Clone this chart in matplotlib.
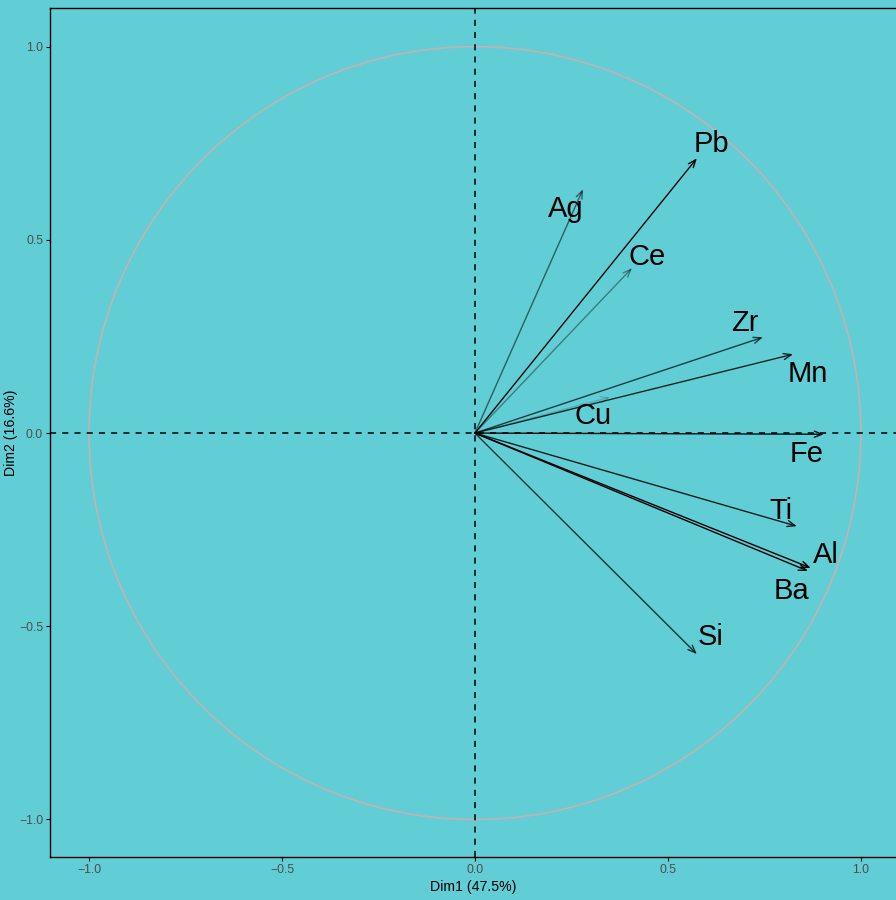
import numpy as np
import matplotlib.pyplot as plt

plt.rcParams["font.family"] = ["Liberation Sans", "DejaVu Sans"]

# variable coordinates on Dim1 / Dim2
variables = ["Pb", "Ag", "Ce", "Zr", "Mn", "Cu", "Fe", "Ti", "Al", "Ba", "Si"]
dim1 = [0.575, 0.280, 0.407, 0.746, 0.824, 0.350, 0.904, 0.834, 0.870, 0.863, 0.575]
dim2 = [0.711, 0.631, 0.427, 0.248, 0.204, 0.093, -0.003, -0.241, -0.349, -0.357, -0.572]
# label positions (repelled)
lab_x = [0.614, 0.236, 0.446, 0.699, 0.863, 0.306, 0.860, 0.793, 0.909, 0.819, 0.611]
lab_y = [0.747, 0.579, 0.455, 0.284, 0.152, 0.044, -0.055, -0.202, -0.316, -0.409, -0.528]

bg = "#61CED6"
fig = plt.figure(figsize=(8.96, 9.0), dpi=100)
fig.patch.set_facecolor(bg)
ax = fig.add_axes([0.0558, 0.0478, 0.9442, 0.9433])
ax.set_facecolor(bg)

# correlation circle
t = np.linspace(0, 2 * np.pi, 400)
ax.plot(np.cos(t), np.sin(t), color="#c2b2b2", lw=1.2, zorder=1)

ax.axhline(0, color="black", ls=(0, (4, 4)), lw=1.1, zorder=2)
ax.axvline(0, color="black", ls=(0, (4, 4)), lw=1.1, zorder=2)

cos2 = np.array(dim1) ** 2 + np.array(dim2) ** 2
alpha = 0.15 + 0.85 * (cos2 - cos2.min()) / (cos2.max() - cos2.min())

for i, v in enumerate(variables):
    ax.annotate("", xy=(dim1[i], dim2[i]), xytext=(0, 0),
                arrowprops=dict(arrowstyle="->,head_length=0.55,head_width=0.22",
                                color="black", alpha=alpha[i], lw=1.0,
                                shrinkA=0, shrinkB=0), zorder=3)
    ax.text(lab_x[i], lab_y[i], v, fontsize=21, ha="center", va="center",
            color="black", zorder=4)

ax.set_xlim(-1.101, 1.091)
ax.set_ylim(-1.097, 1.100)
ax.set_xticks([-1.0, -0.5, 0.0, 0.5, 1.0])
ax.set_yticks([-1.0, -0.5, 0.0, 0.5, 1.0])
ax.set_xticklabels(["\u22121.0", "\u22120.5", "0.0", "0.5", "1.0"])
ax.set_yticklabels(["\u22121.0", "\u22120.5", "0.0", "0.5", "1.0"])
ax.tick_params(labelsize=8.8, labelcolor="#4d4d4d", color="black", length=3, width=0.8, pad=2)
ax.set_xlabel("Dim1 (47.5%)", fontsize=10.2, labelpad=3)
ax.set_ylabel("Dim2 (16.6%)", fontsize=10.2, labelpad=1)
for s in ["left", "bottom", "top"]:
    ax.spines[s].set_linewidth(1.0)
ax.spines["right"].set_visible(False)

fig.savefig("out.png", dpi=100, facecolor=bg)
